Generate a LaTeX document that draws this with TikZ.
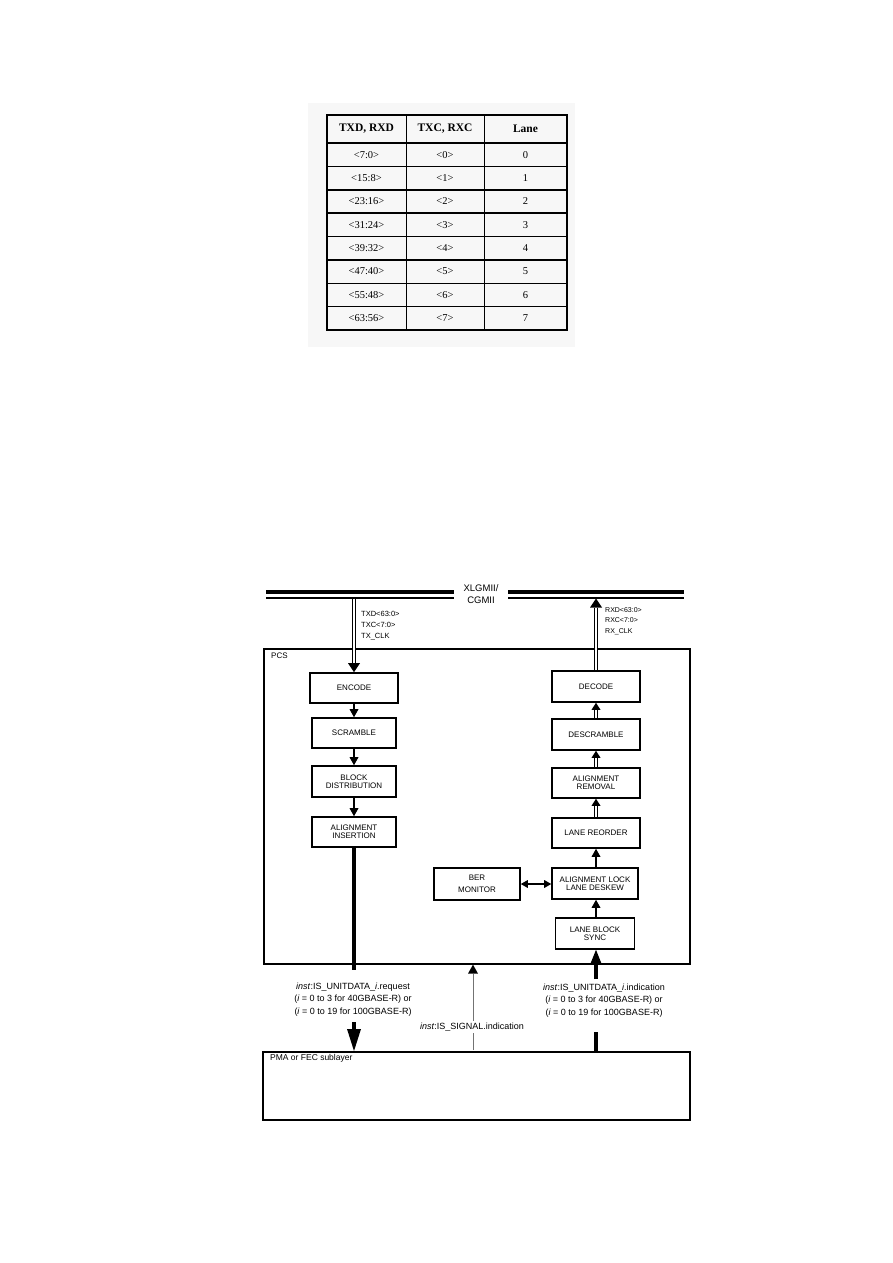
\documentclass[tikz,border=0pt]{standalone}
\usepackage{fontspec}
\setmainfont{Liberation Serif}
\setsansfont{Liberation Sans}
\usetikzlibrary{arrows.meta,calc}
\begin{document}
\begin{tikzpicture}[x=1pt,y=-1pt,
  blk/.style={draw, line width=1.6pt, fill=white, align=center, inner sep=0pt,
    font=\sffamily\fontsize{8}{7.8}\selectfont},
  thk/.style={line width=2.6pt, -{Triangle[length=8pt,width=9pt,line width=0pt]}},
  dblshaft/.style={double, double distance=2.2pt, line width=1.1pt},
  tipup/.style={line width=0.5pt, -{Triangle[length=7pt,width=9pt,line width=0pt]}},
  tipbig/.style={line width=0.5pt, -{Triangle[length=9pt,width=12pt,line width=0pt]}},
  lbl/.style={inner sep=0pt, font=\sffamily\fontsize{7.5}{11}\selectfont, align=left},
  inst/.style={inner sep=0pt, font=\sffamily\fontsize{9}{12.5}\selectfont, align=center},
  cell/.style={inner sep=0pt, font=\fontsize{10.5}{12}\selectfont},
  hcell/.style={inner sep=0pt, font=\bfseries\fontsize{11.5}{12}\selectfont}
]
\useasboundingbox (0,0) rectangle (893,1263);

% ---------------- table ----------------
\fill[black!3] (308,103) rectangle (575,347);
\draw[line width=2.4pt] (327,115) rectangle (567,330);
\draw[line width=2.4pt] (327,143) -- (567,143);
\draw[line width=1pt] (406,115) -- (406,330);
\draw[line width=1pt] (484,115) -- (484,330);
\foreach \k in {1,...,7}{
  \draw[line width=1.5pt] (327,{143+23.375*\k}) -- (567,{143+23.375*\k});
}
\node[hcell] (h1) at (366.5,129) {TXD, RXD};
\node[hcell] (h2) at (445,129) {TXC, RXC};
\node[hcell] (h3) at (525.5,129) {Lane};
\foreach \a/\b/\c [count=\k] in {7:0/0/0, 15:8/1/1, 23:16/2/2, 31:24/3/3, 39:32/4/4, 47:40/5/5, 55:48/6/6, 63:56/7/7}{
  \node[cell] (ca\k) at (366.5,{143+23.375*(\k-0.5)}) {<\a>};
  \node[cell] (cb\k) at (445,{143+23.375*(\k-0.5)}) {<\b>};
  \node[cell] (cc\k) at (525.5,{143+23.375*(\k-0.5)}) {\c};
}

% ---------------- bus ----------------
\draw[line width=4pt] (266,592) -- (454,592);
\draw[line width=2pt] (266,597.5) -- (454,597.5);
\draw[line width=4pt] (508,592) -- (684,592);
\draw[line width=2pt] (508,597.5) -- (684,597.5);
\node[inner sep=0pt, font=\sffamily\fontsize{9.5}{12}\selectfont, align=center] (bus) at (481,594) {XLGMII/\\CGMII};
\coordinate (txtop) at (354,598.5);
\coordinate (rxtop) at (596,598.5);

\node[lbl, anchor=north west] (txl) at (361,611) {TXD<63:0>\\TXC<7:0>\\TX\_CLK};
\node[lbl, anchor=north west, font=\sffamily\fontsize{7}{10.5}\selectfont] (rxl) at (605,607) {RXD<63:0>\\RXC<7:0>\\RX\_CLK};

% ---------------- PCS ----------------
\node[draw, line width=1.6pt, minimum width=426, minimum height=315, anchor=north west, inner sep=0pt] (pcs) at (263,648) {};
\node[inner sep=0pt, anchor=north west, font=\sffamily\fontsize{8}{9}\selectfont] (pcsl) at (271,653) {PCS};

\node[blk, minimum width=88, minimum height=30] (enc) at (354,688) {ENCODE};
\node[blk, minimum width=84, minimum height=30] (scr) at (354,733) {SCRAMBLE};
\node[blk, minimum width=84, minimum height=31] (bd) at (354,781.5) {BLOCK\\DISTRIBUTION};
\node[blk, minimum width=84, minimum height=30] (ai) at (354,832) {ALIGNMENT\\INSERTION};

\node[blk, minimum width=88, minimum height=31] (dec) at (596,686.5) {DECODE};
\node[blk, minimum width=88, minimum height=31] (des) at (596,734.5) {DESCRAMBLE};
\node[blk, minimum width=88, minimum height=30] (ar) at (596,783) {ALIGNMENT\\REMOVAL};
\node[blk, minimum width=88, minimum height=30] (lr) at (596,833) {LANE REORDER};
\node[blk, minimum width=86, minimum height=31] (alk) at (595,883.5) {ALIGNMENT LOCK\\LANE DESKEW};
\node[blk, minimum width=79, minimum height=31] (lbs) at (595,933.5) {LANE BLOCK\\SYNC};
\node[blk, minimum width=86, minimum height=32, font=\sffamily\fontsize{8}{12}\selectfont] (ber) at (477,884) {BER\\MONITOR};

% TX path
\draw[dblshaft] (txtop) -- ([yshift=9pt]enc.north);
\draw[tipbig] ([yshift=9pt]enc.north) -- (enc.north);
\draw[thk] (enc.south) -- (scr.north);
\draw[thk] (scr.south) -- (bd.north);
\draw[thk] (bd.south) -- (ai.north);

% RX path
\draw[dblshaft] (dec.north) -- ([yshift=-9pt]rxtop);
\draw[tipbig] ([yshift=-9pt]rxtop) -- (rxtop);
\draw[dblshaft] (des.north) -- ([yshift=-7pt]dec.south);
\draw[tipup] ([yshift=-7pt]dec.south) -- (dec.south);
\draw[dblshaft] (ar.north) -- ([yshift=-7pt]des.south);
\draw[tipup] ([yshift=-7pt]des.south) -- (des.south);
\draw[dblshaft] (lr.north) -- ([yshift=-7pt]ar.south);
\draw[tipup] ([yshift=-7pt]ar.south) -- (ar.south);
\draw[thk] (alk.north -| lr.south) -- (lr.south);
\draw[thk] (lbs.north -| lr.south) -- (alk.south -| lr.south);
\draw[line width=1.4pt, {Triangle[length=7pt,width=8pt,line width=0pt]}-{Triangle[length=7pt,width=8pt,line width=0pt]}] (ber.east) -- (ber.east -| alk.west);

% ---------------- PMA ----------------
\node[draw, line width=1.5pt, minimum width=427, minimum height=68, anchor=north west, inner sep=0pt] (pma) at (262,1051) {};
\node[inner sep=0pt, anchor=north west, font=\sffamily\fontsize{8.5}{9}\selectfont] (pmal) at (270,1054) {PMA or FEC sublayer};

% request
\coordinate (reqA) at (354,970);
\draw[line width=4pt] (ai.south) -- (reqA);
\coordinate (reqB) at (354,1022);
\draw[line width=4pt, -{Triangle[length=22pt,width=14pt,line width=0pt]}] (reqB) -- (reqB |- pma.north);
\node[inst] (reql) at (353,999.5) {\textit{inst}:IS\_UNITDATA\_\textit{i}.request\\(\textit{i} = 0 to 3 for 40GBASE-R) or\\(\textit{i} = 0 to 19 for 100GBASE-R)};

% indication
\coordinate (indB) at (596,1032);
\draw[line width=4.5pt] (indB |- pma.north) -- (indB);
\coordinate (indA) at (596,979);
\draw[line width=4.5pt, -{Triangle[length=15pt,width=12pt,line width=0pt]}] (indA) -- (lbs.south -| indA);
\node[inst] (indl) at (604,1000.5) {\textit{inst}:IS\_UNITDATA\_\textit{i}.indication\\(\textit{i} = 0 to 3 for 40GBASE-R) or\\(\textit{i} = 0 to 19 for 100GBASE-R)};

% signal
\coordinate (sigB) at (473,1050);
\draw[black!55, line width=0.8pt, -{Triangle[length=9pt,width=10pt,line width=0pt,color=black,fill=black]}] (sigB) -- (sigB |- pcs.south);
\node[inst, fill=white, inner sep=1.5pt] (sigl) at (472,1027) {\textit{inst}:IS\_SIGNAL.indication};

\end{tikzpicture}
\end{document}
